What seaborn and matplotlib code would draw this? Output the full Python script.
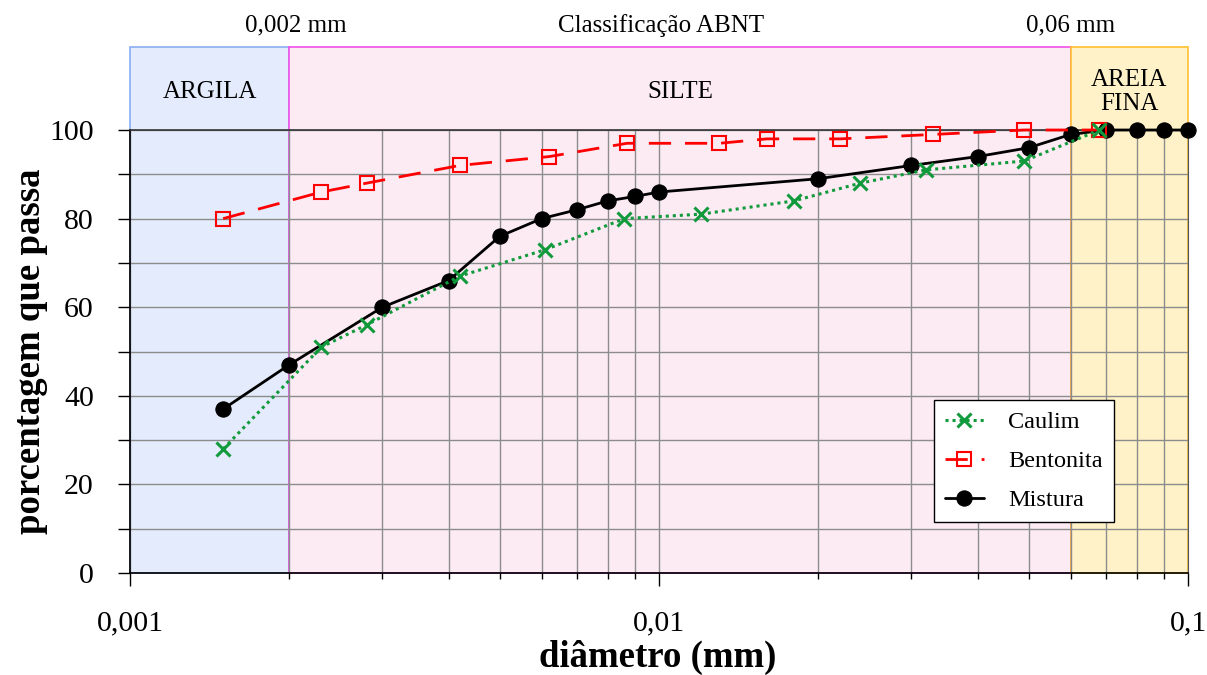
import matplotlib
matplotlib.use("Agg")
import matplotlib.pyplot as plt
import matplotlib.ticker as mticker
from matplotlib.patches import Rectangle
import pandas as pd
import seaborn as sns

# data
caulim_d = [0.0015, 0.0023, 0.0028, 0.0042, 0.0061, 0.0086, 0.012, 0.018,
            0.024, 0.032, 0.049, 0.068]
caulim_p = [28, 51, 56, 67, 73, 80, 81, 84, 88, 91, 93, 100]

bentonita_d = [0.0015, 0.0023, 0.0028, 0.0042, 0.0062, 0.0087, 0.013, 0.016,
               0.022, 0.033, 0.049, 0.068]
bentonita_p = [80, 86, 88, 92, 94, 97, 97, 98, 98, 99, 100, 100]

mistura_d = [0.0015, 0.002, 0.003, 0.004, 0.005, 0.006, 0.007, 0.008, 0.009,
             0.01, 0.02, 0.03, 0.04, 0.05, 0.06, 0.07, 0.08, 0.09, 0.1]
mistura_p = [37, 47, 60, 66, 76, 80, 82, 84, 85, 86, 89, 92, 94, 96, 99,
             100, 100, 100, 100]

zones = ["ARGILA", "SILTE", "AREIA\nFINA"]
zone_limits = [0.001, 0.002, 0.06, 0.1]
zone_fill = ["#E3EBFC", "#FDEBF4", "#FFF2C8"]
zone_edge = ["#8AAEF0", "#F050E8", "#FFC030"]

sns.set_style("white")
plt.rcParams["font.family"] = ["Liberation Serif", "DejaVu Serif"]
plt.rcParams["text.color"] = "black"
plt.rcParams["axes.labelcolor"] = "black"
plt.rcParams["xtick.color"] = "black"
plt.rcParams["ytick.color"] = "black"

fig = plt.figure(figsize=(12.07, 6.75), dpi=100)
ax = fig.add_axes([0.1077, 0.1511, 0.8766, 0.6563])
ax.set_xscale("log")
ax.set_xlim(0.001, 0.1)
ax.set_ylim(0, 100)

# classification bands, reaching above the plot area
top = 118.7
for i, name in enumerate(zones):
    x0, x1 = zone_limits[i], zone_limits[i + 1]
    ax.add_patch(Rectangle((x0, 0), x1 - x0, top, facecolor=zone_fill[i],
                           edgecolor=zone_edge[i], lw=1.2, clip_on=False,
                           zorder=0))
    ax.text((x0 * x1) ** 0.5, 108.6, name, ha="center", va="center",
            fontsize=18, linespacing=1.15)

ax.text(0.00206, 123.7, "0,002 mm", ha="center", va="center", fontsize=18)
ax.text(0.0101, 123.7, "Classificação ABNT", ha="center", va="center",
        fontsize=18)
ax.text(0.06, 123.7, "0,06 mm", ha="center", va="center", fontsize=18)

# grid
ax.yaxis.set_major_locator(mticker.MultipleLocator(20))
ax.yaxis.set_minor_locator(mticker.MultipleLocator(10))
ax.xaxis.set_major_locator(mticker.LogLocator(base=10))
ax.xaxis.set_minor_locator(mticker.LogLocator(base=10, subs=range(2, 10)))
ax.xaxis.set_minor_formatter(mticker.NullFormatter())
ax.xaxis.set_major_formatter(mticker.FuncFormatter(
    lambda v, p: ("%g" % v).replace(".", ",")))
ax.grid(True, which="both", color="#8C8C8C", lw=1.0, zorder=1)
ax.set_axisbelow(True)

df_c = pd.DataFrame({"d": caulim_d, "p": caulim_p})
df_b = pd.DataFrame({"d": bentonita_d, "p": bentonita_p})
df_m = pd.DataFrame({"d": mistura_d, "p": mistura_p})

sns.lineplot(data=df_m, x="d", y="p", ax=ax, estimator=None, sort=False,
             color="black", lw=2, marker="o", markersize=11,
             markeredgecolor="black", label="Mistura", zorder=3,
             clip_on=False)
sns.lineplot(data=df_b, x="d", y="p", ax=ax, estimator=None, sort=False,
             color="#FF0000", lw=2, dashes=False, marker="s", markersize=10,
             markerfacecolor="none", markeredgecolor="#FF0000",
             markeredgewidth=1.5, label="Bentonita", zorder=4, clip_on=False)
sns.lineplot(data=df_c, x="d", y="p", ax=ax, estimator=None, sort=False,
             color="#119A3C", lw=2.2, marker="x", markersize=10,
             markeredgecolor="#119A3C", markeredgewidth=2.2,
             label="Caulim", zorder=5, clip_on=False)
ax.lines[-2].set_dashes((8, 5))
ax.lines[-1].set_dashes((1, 1.3))

handles, labels = ax.get_legend_handles_labels()
order = [labels.index(n) for n in ["Caulim", "Bentonita", "Mistura"]]
leg = ax.legend([handles[i] for i in order], [labels[i] for i in order],
                loc="lower left", bbox_to_anchor=(0.76, 0.115),
                borderaxespad=0, fontsize=17.5, frameon=True, fancybox=False,
                edgecolor="black", framealpha=1, handlelength=1.6,
                handletextpad=1.0, labelspacing=0.7, borderpad=0.45)
leg.get_frame().set_linewidth(1.0)
leg.set_zorder(10)

for s in ["left", "bottom"]:
    ax.spines[s].set_color("black")
    ax.spines[s].set_linewidth(1.2)
ax.spines["top"].set_color("#333333")
ax.spines["top"].set_linewidth(1.2)
ax.spines["right"].set_color("#555555")

ax.tick_params(axis="x", which="major", direction="out", length=9, width=1,
               pad=18, labelsize=21.5, bottom=True)
ax.tick_params(axis="x", which="minor", direction="out", length=4, width=1,
               bottom=True)
ax.tick_params(axis="y", which="both", direction="out", length=9, width=1,
               pad=17, labelsize=21.5, left=True)
ax.tick_params(axis="y", which="minor", labelleft=False)

ax.set_xlabel("diâmetro (mm)", fontsize=26.5, fontweight="bold")
ax.set_ylabel("porcentagem que passa", fontsize=26.5, fontweight="bold")
ax.xaxis.set_label_coords(0.499, -0.19)
ax.xaxis.label.set_va("center")
ax.yaxis.set_label_coords(-0.0945, 0.5)
ax.yaxis.label.set_va("center")

plt.savefig("out.png", dpi=100)
